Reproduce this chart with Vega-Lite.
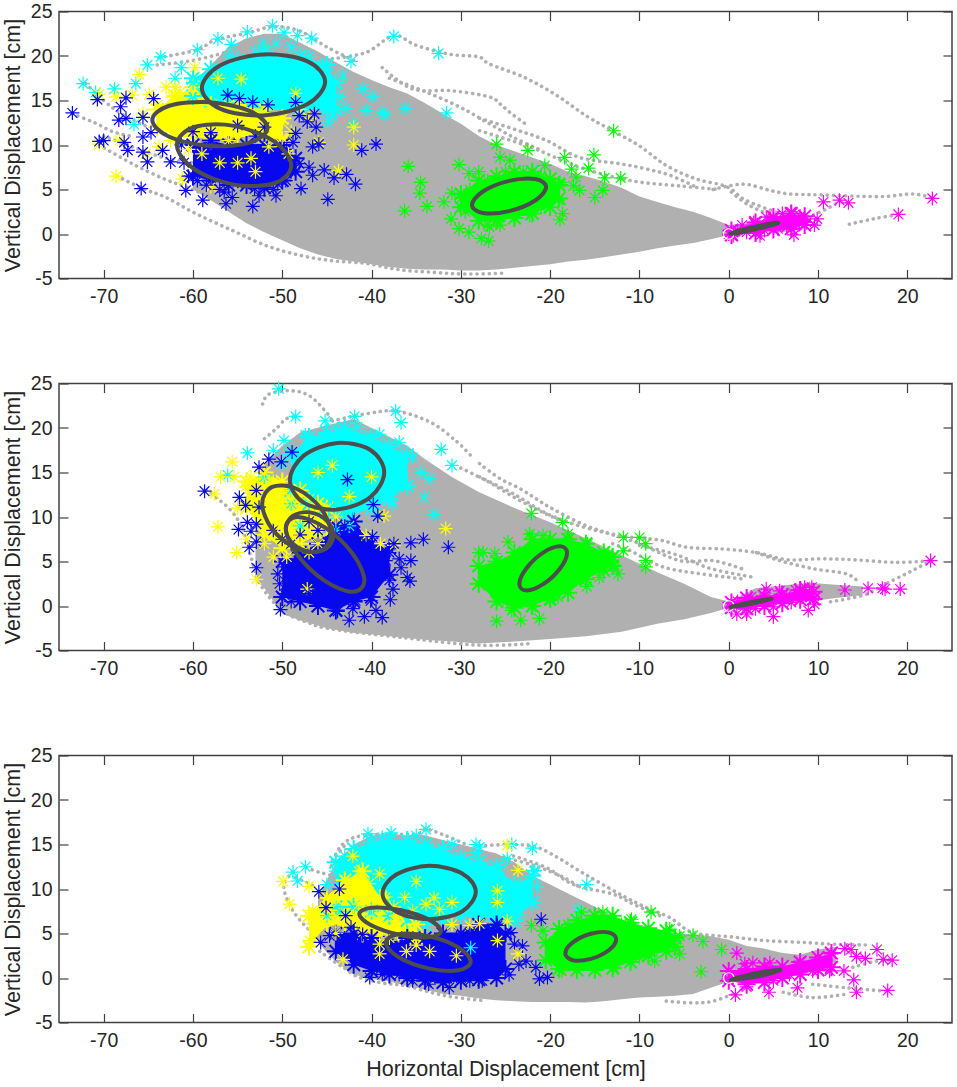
{
  "$schema": "https://vega.github.io/schema/vega-lite/v6.json",
  "description": "Horizontal vs vertical displacement clusters in three panels",
  "padding": {"left": 1, "top": 0.5, "right": 3, "bottom": 4},
  "bounds": "flush",
  "spacing": 105,
  "config": {
    "view": {"stroke": "#404040", "strokeWidth": 1.5},
    "font": "Liberation Sans",
    "axis": {"grid": false, "domain": false, "tickColor": "#404040", "tickWidth": 1.2, "labelColor": "#262626", "titleColor": "#262626", "labelFont": "Liberation Sans", "titleFont": "Liberation Sans", "labelFontSize": 19.5, "titleFontSize": 21.5, "titleFontWeight": "normal"}
  },
  "datasets": {
    "clouds": [
      {"p":1,"c":"g","x":-60,"y":5,"y2":17},{"p":1,"c":"g","x":-58,"y":3.8,"y2":19},{"p":1,"c":"g","x":-56,"y":2.5,"y2":21},{"p":1,"c":"g","x":-54,"y":1.2,"y2":22},{"p":1,"c":"g","x":-52,"y":0.2,"y2":22.5},{"p":1,"c":"g","x":-50,"y":-0.7,"y2":22.5},{"p":1,"c":"g","x":-48,"y":-1.6,"y2":21.5},{"p":1,"c":"g","x":-46,"y":-2.3,"y2":20.5},{"p":1,"c":"g","x":-44,"y":-2.8,"y2":19.3},{"p":1,"c":"g","x":-42,"y":-3.1,"y2":18.2},{"p":1,"c":"g","x":-40,"y":-3.4,"y2":17.3},{"p":1,"c":"g","x":-38,"y":-3.7,"y2":16.5},{"p":1,"c":"g","x":-36,"y":-3.9,"y2":15.8},{"p":1,"c":"g","x":-34,"y":-4,"y2":14.7},{"p":1,"c":"g","x":-32,"y":-4,"y2":13.5},{"p":1,"c":"g","x":-30,"y":-4.1,"y2":12.4},{"p":1,"c":"g","x":-28,"y":-4.1,"y2":11},{"p":1,"c":"g","x":-26,"y":-4,"y2":10},{"p":1,"c":"g","x":-24,"y":-3.8,"y2":9.3},{"p":1,"c":"g","x":-22,"y":-3.6,"y2":8.6},{"p":1,"c":"g","x":-20,"y":-3.4,"y2":7.9},{"p":1,"c":"g","x":-18,"y":-3.1,"y2":7},{"p":1,"c":"g","x":-16,"y":-2.9,"y2":6.5},{"p":1,"c":"g","x":-14,"y":-2.6,"y2":5.9},{"p":1,"c":"g","x":-12,"y":-2.3,"y2":5.2},{"p":1,"c":"g","x":-10,"y":-2,"y2":4.2},{"p":1,"c":"g","x":-8,"y":-1.6,"y2":3.6},{"p":1,"c":"g","x":-6,"y":-1.3,"y2":3},{"p":1,"c":"g","x":-4,"y":-1,"y2":2.5},{"p":1,"c":"g","x":-2,"y":-0.6,"y2":1.8},{"p":1,"c":"g","x":0,"y":-0.1,"y2":1},{"p":1,"c":"g","x":2,"y":0,"y2":1.2},{"p":1,"c":"g","x":4,"y":0.2,"y2":1.6},{"p":1,"c":"g","x":6,"y":0.2,"y2":2},{"p":1,"c":"g","x":8,"y":0.5,"y2":2},
      {"p":1,"c":"c","x":-60,"y":15.5,"y2":17.5},{"p":1,"c":"c","x":-58,"y":15,"y2":18.5},{"p":1,"c":"c","x":-55,"y":14.5,"y2":19.5},{"p":1,"c":"c","x":-52,"y":14,"y2":20.5},{"p":1,"c":"c","x":-48,"y":14,"y2":20},{"p":1,"c":"c","x":-45,"y":14,"y2":19},{"p":1,"c":"c","x":-44,"y":14,"y2":17},
      {"p":1,"c":"y","x":-64,"y":12,"y2":14},{"p":1,"c":"y","x":-62,"y":11,"y2":15.5},{"p":1,"c":"y","x":-60,"y":11,"y2":16.5},{"p":1,"c":"y","x":-58,"y":10.5,"y2":14.5},{"p":1,"c":"y","x":-55,"y":11,"y2":14.5},{"p":1,"c":"y","x":-52,"y":11,"y2":14},{"p":1,"c":"y","x":-50,"y":10.5,"y2":13},
      {"p":1,"c":"b","x":-60,"y":6.5,"y2":10},{"p":1,"c":"b","x":-58,"y":6,"y2":10.5},{"p":1,"c":"b","x":-56,"y":5.5,"y2":10},{"p":1,"c":"b","x":-54,"y":5.5,"y2":10},{"p":1,"c":"b","x":-52,"y":5.2,"y2":10},{"p":1,"c":"b","x":-50,"y":6,"y2":10},{"p":1,"c":"b","x":-48.5,"y":7,"y2":8.5},
      {"p":1,"c":"v","x":-30,"y":3,"y2":4.5},{"p":1,"c":"v","x":-28,"y":1.5,"y2":6},{"p":1,"c":"v","x":-26,"y":1.5,"y2":6.5},{"p":1,"c":"v","x":-24,"y":1.8,"y2":7},{"p":1,"c":"v","x":-22,"y":2.3,"y2":7},{"p":1,"c":"v","x":-20,"y":3,"y2":6.2},{"p":1,"c":"v","x":-19,"y":4,"y2":5.5},
      {"p":1,"c":"m","x":0.3,"y":-0.1,"y2":0.4},{"p":1,"c":"m","x":3,"y":0.1,"y2":1.3},{"p":1,"c":"m","x":5,"y":0.5,"y2":1.9},{"p":1,"c":"m","x":7,"y":0.6,"y2":2.3},{"p":1,"c":"m","x":8.5,"y":1,"y2":2},

      {"p":2,"c":"g","x":-53,"y":3,"y2":14},{"p":2,"c":"g","x":-52,"y":2,"y2":16},{"p":2,"c":"g","x":-50,"y":-0.9,"y2":18},{"p":2,"c":"g","x":-48,"y":-1.6,"y2":19.5},{"p":2,"c":"g","x":-45,"y":-2.5,"y2":20.3},{"p":2,"c":"g","x":-42,"y":-3,"y2":21},{"p":2,"c":"g","x":-39,"y":-3.3,"y2":19.5},{"p":2,"c":"g","x":-36,"y":-3.6,"y2":18},{"p":2,"c":"g","x":-34,"y":-3.8,"y2":16.5},{"p":2,"c":"g","x":-31,"y":-4,"y2":14.5},{"p":2,"c":"g","x":-28,"y":-4.2,"y2":12.8},{"p":2,"c":"g","x":-24,"y":-4,"y2":11},{"p":2,"c":"g","x":-20,"y":-3.7,"y2":9.4},{"p":2,"c":"g","x":-16,"y":-3.4,"y2":7.6},{"p":2,"c":"g","x":-12,"y":-2.9,"y2":5.7},{"p":2,"c":"g","x":-8,"y":-2,"y2":3.8},{"p":2,"c":"g","x":-5,"y":-1.5,"y2":2.5},{"p":2,"c":"g","x":-2,"y":-0.8,"y2":1},{"p":2,"c":"g","x":0,"y":-0.2,"y2":0.5},{"p":2,"c":"g","x":3,"y":0,"y2":2},{"p":2,"c":"g","x":6,"y":0.3,"y2":2.3},{"p":2,"c":"g","x":9,"y":0.5,"y2":2.6},{"p":2,"c":"g","x":12,"y":0.9,"y2":2.4},{"p":2,"c":"g","x":15,"y":1.2,"y2":2.2},
      {"p":2,"c":"c","x":-49,"y":13,"y2":17},{"p":2,"c":"c","x":-47,"y":11.5,"y2":19},{"p":2,"c":"c","x":-45,"y":10.5,"y2":19.5},{"p":2,"c":"c","x":-43,"y":10,"y2":20},{"p":2,"c":"c","x":-40,"y":11,"y2":19},{"p":2,"c":"c","x":-38,"y":12,"y2":18},{"p":2,"c":"c","x":-36,"y":13.5,"y2":17},
      {"p":2,"c":"y","x":-54,"y":11,"y2":14},{"p":2,"c":"y","x":-52,"y":8,"y2":15},{"p":2,"c":"y","x":-50,"y":6.5,"y2":14},{"p":2,"c":"y","x":-48,"y":7,"y2":13},{"p":2,"c":"y","x":-46,"y":8,"y2":11.5},{"p":2,"c":"y","x":-45,"y":9,"y2":11},
      {"p":2,"c":"b","x":-50,"y":1,"y2":5},{"p":2,"c":"b","x":-48,"y":0.5,"y2":6},{"p":2,"c":"b","x":-46,"y":0,"y2":7},{"p":2,"c":"b","x":-44,"y":-0.5,"y2":9},{"p":2,"c":"b","x":-42,"y":0.5,"y2":9.5},{"p":2,"c":"b","x":-40,"y":1,"y2":7},{"p":2,"c":"b","x":-38,"y":3.5,"y2":6.5},
      {"p":2,"c":"v","x":-28,"y":2.5,"y2":4.5},{"p":2,"c":"v","x":-26,"y":0.5,"y2":5},{"p":2,"c":"v","x":-24,"y":-0.2,"y2":6},{"p":2,"c":"v","x":-22,"y":0,"y2":7.5},{"p":2,"c":"v","x":-20,"y":0.8,"y2":7.5},{"p":2,"c":"v","x":-18,"y":1.5,"y2":7.5},{"p":2,"c":"v","x":-16,"y":3,"y2":7},{"p":2,"c":"v","x":-14,"y":4,"y2":6},{"p":2,"c":"v","x":-13,"y":4.5,"y2":5.5},
      {"p":2,"c":"m","x":0.3,"y":-0.2,"y2":0.4},{"p":2,"c":"m","x":2,"y":-0.3,"y2":0.9},{"p":2,"c":"m","x":4,"y":0,"y2":1.1},{"p":2,"c":"m","x":6,"y":0.3,"y2":1.3},{"p":2,"c":"m","x":8,"y":0.7,"y2":1.8},{"p":2,"c":"m","x":9.5,"y":0.8,"y2":1.6},

      {"p":3,"c":"g","x":-46,"y":4,"y2":9},{"p":3,"c":"g","x":-44,"y":1.8,"y2":13},{"p":3,"c":"g","x":-42,"y":0.4,"y2":15},{"p":3,"c":"g","x":-40,"y":-0.1,"y2":16},{"p":3,"c":"g","x":-38,"y":-0.4,"y2":16.2},{"p":3,"c":"g","x":-36,"y":-0.9,"y2":16},{"p":3,"c":"g","x":-34,"y":-1.3,"y2":16},{"p":3,"c":"g","x":-32,"y":-1.8,"y2":15.5},{"p":3,"c":"g","x":-30,"y":-2,"y2":15},{"p":3,"c":"g","x":-28,"y":-2.3,"y2":14.5},{"p":3,"c":"g","x":-26,"y":-2.5,"y2":14},{"p":3,"c":"g","x":-24,"y":-2.6,"y2":13},{"p":3,"c":"g","x":-22,"y":-2.7,"y2":11.5},{"p":3,"c":"g","x":-20,"y":-2.7,"y2":10.5},{"p":3,"c":"g","x":-18,"y":-2.7,"y2":9.5},{"p":3,"c":"g","x":-16,"y":-2.75,"y2":8.5},{"p":3,"c":"g","x":-14,"y":-2.6,"y2":7.5},{"p":3,"c":"g","x":-12,"y":-2.4,"y2":6.5},{"p":3,"c":"g","x":-10,"y":-2.2,"y2":6},{"p":3,"c":"g","x":-8,"y":-2.1,"y2":5.5},{"p":3,"c":"g","x":-6,"y":-2,"y2":5},{"p":3,"c":"g","x":-4,"y":-1.8,"y2":4.9},{"p":3,"c":"g","x":-2,"y":-1.1,"y2":4.7},{"p":3,"c":"g","x":0,"y":-0.4,"y2":4.3},{"p":3,"c":"g","x":2,"y":-0.6,"y2":3.6},{"p":3,"c":"g","x":4,"y":-0.3,"y2":3.3},{"p":3,"c":"g","x":6,"y":0,"y2":2.8},{"p":3,"c":"g","x":8,"y":0.5,"y2":2.6},{"p":3,"c":"g","x":10,"y":1,"y2":3.2},{"p":3,"c":"g","x":12,"y":1.2,"y2":3.5},
      {"p":3,"c":"c","x":-44,"y":8,"y2":13},{"p":3,"c":"c","x":-42,"y":8,"y2":14.5},{"p":3,"c":"c","x":-40,"y":7.5,"y2":15.3},{"p":3,"c":"c","x":-38,"y":7,"y2":15.5},{"p":3,"c":"c","x":-36,"y":6.5,"y2":15.5},{"p":3,"c":"c","x":-34,"y":6,"y2":15},{"p":3,"c":"c","x":-32,"y":6.5,"y2":14.5},{"p":3,"c":"c","x":-30,"y":7,"y2":13.5},{"p":3,"c":"c","x":-28,"y":7,"y2":13},{"p":3,"c":"c","x":-26,"y":6.5,"y2":12.5},{"p":3,"c":"c","x":-24,"y":6.5,"y2":10.5},{"p":3,"c":"c","x":-22,"y":8.5,"y2":11.5},
      {"p":3,"c":"y","x":-47,"y":3.5,"y2":7},{"p":3,"c":"y","x":-45,"y":6,"y2":9},{"p":3,"c":"y","x":-43,"y":6,"y2":11},{"p":3,"c":"y","x":-41,"y":5,"y2":12},{"p":3,"c":"y","x":-39,"y":5,"y2":9},{"p":3,"c":"y","x":-37,"y":5,"y2":7},{"p":3,"c":"y","x":-35,"y":4.5,"y2":6},
      {"p":3,"c":"b","x":-44,"y":3,"y2":5},{"p":3,"c":"b","x":-42,"y":1.5,"y2":5},{"p":3,"c":"b","x":-40,"y":0.8,"y2":4.5},{"p":3,"c":"b","x":-38,"y":0.4,"y2":4},{"p":3,"c":"b","x":-36,"y":0,"y2":4.5},{"p":3,"c":"b","x":-34,"y":-0.3,"y2":4.5},{"p":3,"c":"b","x":-32,"y":-0.5,"y2":5},{"p":3,"c":"b","x":-30,"y":-0.3,"y2":5},{"p":3,"c":"b","x":-28,"y":-0.2,"y2":6},{"p":3,"c":"b","x":-26,"y":0,"y2":6},{"p":3,"c":"b","x":-25,"y":1,"y2":5},
      {"p":3,"c":"v","x":-20.5,"y":2,"y2":4},{"p":3,"c":"v","x":-19,"y":1,"y2":5.5},{"p":3,"c":"v","x":-17,"y":0.9,"y2":6.5},{"p":3,"c":"v","x":-15,"y":0.9,"y2":7},{"p":3,"c":"v","x":-13,"y":1.1,"y2":7},{"p":3,"c":"v","x":-11,"y":1.8,"y2":6.2},{"p":3,"c":"v","x":-9,"y":2.5,"y2":5.6},{"p":3,"c":"v","x":-7,"y":3,"y2":5.3},{"p":3,"c":"v","x":-6,"y":3.5,"y2":4.5},
      {"p":3,"c":"m","x":0,"y":-0.3,"y2":0.8},{"p":3,"c":"m","x":2,"y":-0.7,"y2":1},{"p":3,"c":"m","x":4,"y":-0.5,"y2":1.3},{"p":3,"c":"m","x":6,"y":0,"y2":1.3},{"p":3,"c":"m","x":8,"y":0.4,"y2":1.8},{"p":3,"c":"m","x":10,"y":0.9,"y2":2.3},{"p":3,"c":"m","x":11.5,"y":1.2,"y2":2.8}
    ],
    "traces": [
      {"p":1,"id":"a","x":-70.5,"y":10},{"p":1,"id":"a","x":-66.8,"y":7.9},{"p":1,"id":"a","x":-63,"y":6.1},{"p":1,"id":"a","x":-60,"y":5},{"p":1,"id":"a","x":-57,"y":3.5},
      {"p":1,"id":"b","x":-68.5,"y":6.5},{"p":1,"id":"b","x":-65.6,"y":5.1},{"p":1,"id":"b","x":-63,"y":4.1},{"p":1,"id":"b","x":-59.7,"y":2.3},{"p":1,"id":"b","x":-55.6,"y":0.4},{"p":1,"id":"b","x":-51.8,"y":-1.3},{"p":1,"id":"b","x":-48,"y":-2.4},{"p":1,"id":"b","x":-44.4,"y":-3},{"p":1,"id":"b","x":-40.6,"y":-3.3},{"p":1,"id":"b","x":-37,"y":-4},{"p":1,"id":"b","x":-33.2,"y":-4.3},{"p":1,"id":"b","x":-29.4,"y":-4.5},{"p":1,"id":"b","x":-25,"y":-4.4},
      {"p":1,"id":"c","x":-63.8,"y":19.8},{"p":1,"id":"c","x":-59.5,"y":20.7},{"p":1,"id":"c","x":-57.5,"y":21.8},{"p":1,"id":"c","x":-53.8,"y":22.6},{"p":1,"id":"c","x":-51,"y":23.3},{"p":1,"id":"c","x":-48,"y":22.8},{"p":1,"id":"c","x":-45,"y":21},{"p":1,"id":"c","x":-42,"y":19.5},
      {"p":1,"id":"d","x":-72,"y":16.9},{"p":1,"id":"d","x":-70,"y":15},{"p":1,"id":"d","x":-68,"y":13.5},{"p":1,"id":"d","x":-65,"y":12},
      {"p":1,"id":"e","x":-44.4,"y":19.7},{"p":1,"id":"e","x":-40.6,"y":20.4},{"p":1,"id":"e","x":-37.5,"y":22.3},{"p":1,"id":"e","x":-35,"y":21.2},{"p":1,"id":"e","x":-31.3,"y":20.2},{"p":1,"id":"e","x":-28,"y":19.9},{"p":1,"id":"e","x":-26.8,"y":19.1},{"p":1,"id":"e","x":-22.9,"y":17.6},{"p":1,"id":"e","x":-19.3,"y":15.6},{"p":1,"id":"e","x":-16,"y":13.3},{"p":1,"id":"e","x":-13,"y":11.6},{"p":1,"id":"e","x":-10,"y":9.9},{"p":1,"id":"e","x":-7,"y":7.7},{"p":1,"id":"e","x":-3.7,"y":6.2},{"p":1,"id":"e","x":-0.2,"y":5.3},{"p":1,"id":"e","x":1.9,"y":3.8},{"p":1,"id":"e","x":5.7,"y":2.3},
      {"p":1,"id":"f","x":-1.75,"y":5},{"p":1,"id":"f","x":1.6,"y":5.6},{"p":1,"id":"f","x":4.6,"y":4.9},{"p":1,"id":"f","x":6.8,"y":4.5},{"p":1,"id":"f","x":10.2,"y":4.4},{"p":1,"id":"f","x":16.9,"y":4.2},{"p":1,"id":"f","x":20.6,"y":4.5},{"p":1,"id":"f","x":22.9,"y":4},
      {"p":1,"id":"g","x":0.3,"y":4.7},{"p":1,"id":"g","x":2,"y":3.4},{"p":1,"id":"g","x":4.2,"y":2.3},{"p":1,"id":"g","x":6,"y":1.6},
      {"p":1,"id":"h","x":13.5,"y":1.1},{"p":1,"id":"h","x":16.2,"y":1.7},{"p":1,"id":"h","x":19,"y":2.2},
      {"p":1,"id":"i","x":7,"y":1},{"p":1,"id":"i","x":10.5,"y":2.6},{"p":1,"id":"i","x":12.5,"y":3.6},{"p":1,"id":"i","x":13.3,"y":3.5},
      {"p":1,"id":"j","x":-27.9,"y":13},{"p":1,"id":"j","x":-24.1,"y":11.8},{"p":1,"id":"j","x":-20.4,"y":10.5},{"p":1,"id":"j","x":-16.7,"y":8.6},{"p":1,"id":"j","x":-12.2,"y":7.9},{"p":1,"id":"j","x":-9.2,"y":7.3},{"p":1,"id":"j","x":-6.6,"y":6.6},{"p":1,"id":"j","x":-3.7,"y":5.3},
      {"p":1,"id":"k","x":-27.9,"y":11.6},{"p":1,"id":"k","x":-22.3,"y":9.8},{"p":1,"id":"k","x":-16.7,"y":7.5},{"p":1,"id":"k","x":-11,"y":6},{"p":1,"id":"k","x":-5.5,"y":5.4},{"p":1,"id":"k","x":-1,"y":5},
      {"p":1,"id":"l","x":-38.8,"y":18.7},{"p":1,"id":"l","x":-35.4,"y":16.3},{"p":1,"id":"l","x":-31,"y":16.1},{"p":1,"id":"l","x":-26.8,"y":15.4},{"p":1,"id":"l","x":-25.6,"y":14.6},{"p":1,"id":"l","x":-24.3,"y":13.5},{"p":1,"id":"l","x":-22.8,"y":12.4},
      {"p":1,"id":"m","x":-73.5,"y":13.5},{"p":1,"id":"m","x":-71,"y":12.5},{"p":1,"id":"m","x":-69,"y":11.5},{"p":1,"id":"m","x":-67,"y":11},
      {"p":1,"id":"n","x":-70,"y":11},{"p":1,"id":"n","x":-66,"y":9.5},{"p":1,"id":"n","x":-63,"y":8.5},{"p":1,"id":"n","x":-60,"y":8},
      {"p":1,"id":"o","x":-64,"y":19},{"p":1,"id":"o","x":-60,"y":19.5},{"p":1,"id":"o","x":-56,"y":20.5},
      {"p":1,"id":"q","x":-38,"y":17.5},{"p":1,"id":"q","x":-34,"y":16},{"p":1,"id":"q","x":-30,"y":14.2},{"p":1,"id":"q","x":-27,"y":12.5},{"p":1,"id":"q","x":-24,"y":10.8},{"p":1,"id":"q","x":-21,"y":9.4},
      {"p":2,"id":"a","x":-52.2,"y":22.7},{"p":2,"id":"a","x":-51.5,"y":23.8},{"p":2,"id":"a","x":-49.2,"y":24.2},{"p":2,"id":"a","x":-47,"y":23.65},{"p":2,"id":"a","x":-45.1,"y":21.8},{"p":2,"id":"a","x":-44.4,"y":20.8},
      {"p":2,"id":"b","x":-52,"y":18.8},{"p":2,"id":"b","x":-50.7,"y":19.9},{"p":2,"id":"b","x":-49.6,"y":21},{"p":2,"id":"b","x":-48.5,"y":21.3},
      {"p":2,"id":"c","x":-44.4,"y":20.8},{"p":2,"id":"c","x":-40.6,"y":21.6},{"p":2,"id":"c","x":-37.3,"y":21.9},{"p":2,"id":"c","x":-33.5,"y":20.7},{"p":2,"id":"c","x":-30.6,"y":18.6},{"p":2,"id":"c","x":-28.7,"y":16.7},
      {"p":2,"id":"d","x":-27.9,"y":16},{"p":2,"id":"d","x":-25.6,"y":14.3},{"p":2,"id":"d","x":-23.4,"y":13.2},{"p":2,"id":"d","x":-21.5,"y":12},{"p":2,"id":"d","x":-19.7,"y":10.9},{"p":2,"id":"d","x":-15.9,"y":9},{"p":2,"id":"d","x":-12.2,"y":7.9},{"p":2,"id":"d","x":-7.7,"y":7.4},{"p":2,"id":"d","x":-4.7,"y":6.6},{"p":2,"id":"d","x":-0.6,"y":6.4},{"p":2,"id":"d","x":3.1,"y":6},{"p":2,"id":"d","x":6.5,"y":5.2},{"p":2,"id":"d","x":10.2,"y":5.3},{"p":2,"id":"d","x":13.9,"y":5.2},{"p":2,"id":"d","x":18.8,"y":4.9},{"p":2,"id":"d","x":22.7,"y":5.1},
      {"p":2,"id":"e","x":22.7,"y":5.1},{"p":2,"id":"e","x":20.6,"y":4},{"p":2,"id":"e","x":17.6,"y":2.5},{"p":2,"id":"e","x":15,"y":1.2},{"p":2,"id":"e","x":10.9,"y":0.4},
      {"p":2,"id":"f","x":3.1,"y":6},{"p":2,"id":"f","x":5.7,"y":5.1},{"p":2,"id":"f","x":9.4,"y":4.2},{"p":2,"id":"f","x":13.2,"y":3.6},{"p":2,"id":"f","x":14.7,"y":2.5},
      {"p":2,"id":"g","x":-27.9,"y":14.5},{"p":2,"id":"g","x":-24.1,"y":12.6},{"p":2,"id":"g","x":-20.4,"y":10.4},{"p":2,"id":"g","x":-16.7,"y":9},{"p":2,"id":"g","x":-11,"y":7.4},{"p":2,"id":"g","x":-5.5,"y":5.1},{"p":2,"id":"g","x":-1.75,"y":5.1},{"p":2,"id":"g","x":2,"y":4},
      {"p":2,"id":"h","x":-13,"y":7},{"p":2,"id":"h","x":-11,"y":6.2},{"p":2,"id":"h","x":-7.4,"y":4.4},{"p":2,"id":"h","x":-3,"y":3.6},{"p":2,"id":"h","x":2,"y":3},
      {"p":2,"id":"i","x":-10,"y":6.8},{"p":2,"id":"i","x":-6,"y":5.8},{"p":2,"id":"i","x":-2,"y":4.2},{"p":2,"id":"i","x":3,"y":3.2},
      {"p":2,"id":"j","x":-58.5,"y":13},{"p":2,"id":"j","x":-56,"y":11},{"p":2,"id":"j","x":-54.5,"y":8.8},{"p":2,"id":"j","x":-53.5,"y":5.5},{"p":2,"id":"j","x":-52.5,"y":2.5},{"p":2,"id":"j","x":-50,"y":-0.5},{"p":2,"id":"j","x":-47,"y":-1.9},{"p":2,"id":"j","x":-44.4,"y":-2.6},{"p":2,"id":"j","x":-36.9,"y":-3.5},{"p":2,"id":"j","x":-28,"y":-4.4},{"p":2,"id":"j","x":-22,"y":-4.2},
      {"p":2,"id":"k","x":-30,"y":15.5},{"p":2,"id":"k","x":-27,"y":14},{"p":2,"id":"k","x":-24,"y":12.2},{"p":2,"id":"k","x":-21,"y":10.6},{"p":2,"id":"k","x":-18,"y":9.2},
      {"p":3,"id":"a","x":-27.9,"y":14.85},{"p":3,"id":"a","x":-24.1,"y":15},{"p":3,"id":"a","x":-21.5,"y":14.7},{"p":3,"id":"a","x":-19.1,"y":13.5},{"p":3,"id":"a","x":-17,"y":12.2},{"p":3,"id":"a","x":-14.8,"y":10.9},{"p":3,"id":"a","x":-11.8,"y":9.2},{"p":3,"id":"a","x":-9.2,"y":7.9},{"p":3,"id":"a","x":-6.6,"y":6.8},{"p":3,"id":"a","x":-4,"y":5.1},{"p":3,"id":"a","x":0.5,"y":4.6},{"p":3,"id":"a","x":4.2,"y":4.2},{"p":3,"id":"a","x":8.3,"y":4},{"p":3,"id":"a","x":11.7,"y":3.8},{"p":3,"id":"a","x":15.8,"y":3.7},
      {"p":3,"id":"b","x":-24.1,"y":13.7},{"p":3,"id":"b","x":-20.4,"y":12.4},{"p":3,"id":"b","x":-17.4,"y":10.5},{"p":3,"id":"b","x":-12.9,"y":9.4},{"p":3,"id":"b","x":-10.7,"y":8.3},{"p":3,"id":"b","x":-7.7,"y":7},
      {"p":3,"id":"c","x":-27.9,"y":14.1},{"p":3,"id":"c","x":-22.3,"y":12.8},{"p":3,"id":"c","x":-18.5,"y":11.3},{"p":3,"id":"c","x":-16.7,"y":10.2},
      {"p":3,"id":"d","x":-7,"y":-2.6},{"p":3,"id":"d","x":-4,"y":-2.8},{"p":3,"id":"d","x":-1.75,"y":-2.6},{"p":3,"id":"d","x":0.5,"y":-1.8},
      {"p":3,"id":"e","x":6.1,"y":-1.6},{"p":3,"id":"e","x":9.4,"y":-2.2},{"p":3,"id":"e","x":13.2,"y":-1.8},
      {"p":3,"id":"f","x":9.4,"y":-0.7},{"p":3,"id":"f","x":13.2,"y":-1.1},{"p":3,"id":"f","x":17.8,"y":-1.5},
      {"p":3,"id":"g","x":13.9,"y":1.2},{"p":3,"id":"g","x":16.5,"y":1.9},{"p":3,"id":"g","x":18.3,"y":2},
      {"p":3,"id":"h","x":-44.5,"y":12.6},{"p":3,"id":"h","x":-43.4,"y":14.86},{"p":3,"id":"h","x":-41,"y":16},{"p":3,"id":"h","x":-35,"y":16.2},{"p":3,"id":"h","x":-33.9,"y":16.7},{"p":3,"id":"h","x":-31.7,"y":16},{"p":3,"id":"h","x":-29.4,"y":15},
      {"p":3,"id":"i","x":-48.8,"y":11.9},{"p":3,"id":"i","x":-49.8,"y":10.55},{"p":3,"id":"i","x":-49.4,"y":8.7},{"p":3,"id":"i","x":-48.1,"y":6.6},{"p":3,"id":"i","x":-45.9,"y":4.4},{"p":3,"id":"i","x":-43.6,"y":2.3},{"p":3,"id":"i","x":-42.1,"y":0.4},{"p":3,"id":"i","x":-39.1,"y":-0.5},{"p":3,"id":"i","x":-36.1,"y":-0.9},{"p":3,"id":"i","x":-31.7,"y":-2},{"p":3,"id":"i","x":-27.2,"y":-2.56},
      {"p":3,"id":"j","x":-47.3,"y":12.4},{"p":3,"id":"j","x":-45.9,"y":11.9},{"p":3,"id":"j","x":-44.4,"y":11.5},
      {"p":3,"id":"k","x":-48.5,"y":11.3},{"p":3,"id":"k","x":-46.6,"y":10.4},
      {"p":3,"id":"l","x":-44.4,"y":13.2},{"p":3,"id":"l","x":-42.9,"y":15},
      {"p":3,"id":"n","x":-45.8,"y":3},{"p":3,"id":"n","x":-43.2,"y":1.2},{"p":3,"id":"n","x":-41,"y":0.2}
    ],
    "stars": [
      {"p":1,"c":"c","x":-72.3,"y":16.9},{"p":1,"c":"c","x":-70.9,"y":15.9},{"p":1,"c":"c","x":-68.8,"y":16.3},{"p":1,"c":"c","x":-66.4,"y":16.9},{"p":1,"c":"c","x":-65.1,"y":19},{"p":1,"c":"c","x":-63.6,"y":19.9},{"p":1,"c":"c","x":-61.3,"y":18.7},{"p":1,"c":"c","x":-59.5,"y":20.7},{"p":1,"c":"c","x":-57.2,"y":21.9},{"p":1,"c":"c","x":-55.7,"y":21.3},{"p":1,"c":"c","x":-53.9,"y":22.7},{"p":1,"c":"c","x":-51.1,"y":23.4},{"p":1,"c":"c","x":-49.8,"y":22.6},{"p":1,"c":"c","x":-48.3,"y":22.3},{"p":1,"c":"c","x":-46.7,"y":22},{"p":1,"c":"c","x":-52.2,"y":21.4},{"p":1,"c":"c","x":-50.7,"y":21.4},{"p":1,"c":"c","x":-42.3,"y":19.4},{"p":1,"c":"c","x":-37.5,"y":22.2},{"p":1,"c":"c","x":-32.5,"y":20.3},{"p":1,"c":"c","x":-31.6,"y":13.6},{"p":1,"c":"c","x":-36.2,"y":14.1},{"p":1,"c":"c","x":-38.8,"y":13.7},{"p":1,"c":"c","x":-40.6,"y":13.9},{"p":1,"c":"c","x":-38.5,"y":13.4},{"p":1,"c":"c","x":-39.9,"y":15.4},{"p":1,"c":"c","x":-41,"y":16.3},{"p":1,"c":"c","x":-42.9,"y":14.1},{"p":1,"c":"c","x":-44.4,"y":13.3},{"p":1,"c":"c","x":-44.9,"y":12.6},{"p":1,"c":"c","x":-42.1,"y":12.4},{"p":1,"c":"c","x":-43.2,"y":17.8},{"p":1,"c":"c","x":-43.6,"y":15.4},{"p":1,"c":"c","x":-45.1,"y":14.3},{"p":1,"c":"c","x":-66.6,"y":12.3},{"p":1,"c":"c","x":-60,"y":17},{"p":1,"c":"c","x":-58,"y":18.5},{"p":1,"c":"c","x":-56,"y":20},{"p":1,"c":"c","x":-53,"y":20.5},{"p":1,"c":"c","x":-49,"y":21},{"p":1,"c":"c","x":-47,"y":20},{"p":1,"c":"c","x":-45.5,"y":19},{"p":1,"c":"c","x":-44.5,"y":17},{"p":1,"c":"c","x":-46,"y":15},{"p":1,"c":"c","x":-48,"y":14.5},{"p":1,"c":"c","x":-62,"y":17.5},{"p":1,"c":"c","x":-57,"y":15.5},
      {"p":1,"c":"y","x":-68.6,"y":6.5},{"p":1,"c":"y","x":-66,"y":17.9},{"p":1,"c":"y","x":-59.8,"y":18.7},{"p":1,"c":"y","x":-54.6,"y":17.4},{"p":1,"c":"y","x":-57.2,"y":17.5},{"p":1,"c":"y","x":-48.5,"y":15.8},{"p":1,"c":"y","x":-42,"y":12},{"p":1,"c":"y","x":-42,"y":10},{"p":1,"c":"y","x":-43.7,"y":7.1},{"p":1,"c":"y","x":-45.9,"y":10.3},{"p":1,"c":"y","x":-70.5,"y":15.7},{"p":1,"c":"y","x":-66.8,"y":15.6},{"p":1,"c":"y","x":-68.6,"y":15.4},{"p":1,"c":"y","x":-68.2,"y":10.5},{"p":1,"c":"y","x":-70.5,"y":10.1},{"p":1,"c":"y","x":-65.3,"y":9},{"p":1,"c":"y","x":-63.8,"y":9.8},{"p":1,"c":"y","x":-63,"y":16.5},{"p":1,"c":"y","x":-61.5,"y":15.9},{"p":1,"c":"y","x":-62.3,"y":15.4},{"p":1,"c":"y","x":-64.9,"y":15.7},{"p":1,"c":"y","x":-65.6,"y":13.5},{"p":1,"c":"y","x":-61.2,"y":6.2},{"p":1,"c":"y","x":-58,"y":5.3},{"p":1,"c":"y","x":-62,"y":14},{"p":1,"c":"y","x":-60,"y":13.5},{"p":1,"c":"y","x":-58,"y":13},{"p":1,"c":"y","x":-56,"y":14.5},{"p":1,"c":"y","x":-54,"y":13.5},{"p":1,"c":"y","x":-52,"y":13},{"p":1,"c":"y","x":-50,"y":12.5},{"p":1,"c":"y","x":-49,"y":11.5},{"p":1,"c":"y","x":-50,"y":10.8},{"p":1,"c":"y","x":-48,"y":14},{"p":1,"c":"y","x":-47,"y":13},{"p":1,"c":"y","x":-63,"y":12},{"p":1,"c":"y","x":-61,"y":11.5},{"p":1,"c":"y","x":-62,"y":16.5},{"p":1,"c":"y","x":-59,"y":14.5},{"p":1,"c":"y","x":-62.5,"y":10.5},{"p":1,"c":"y","x":-64,"y":14.5},
      {"p":1,"c":"b","x":-73.5,"y":13.6},{"p":1,"c":"b","x":-70.7,"y":15.1},{"p":1,"c":"b","x":-67.5,"y":15.3},{"p":1,"c":"b","x":-68.1,"y":14.3},{"p":1,"c":"b","x":-64.4,"y":15.2},{"p":1,"c":"b","x":-68.3,"y":12.8},{"p":1,"c":"b","x":-67.5,"y":13},{"p":1,"c":"b","x":-65.6,"y":13.1},{"p":1,"c":"b","x":-70.5,"y":10.4},{"p":1,"c":"b","x":-70,"y":10.5},{"p":1,"c":"b","x":-67.7,"y":10.3},{"p":1,"c":"b","x":-67.3,"y":9.4},{"p":1,"c":"b","x":-65.6,"y":10.9},{"p":1,"c":"b","x":-64.7,"y":11.4},{"p":1,"c":"b","x":-65.6,"y":9.2},{"p":1,"c":"b","x":-65.1,"y":8.1},{"p":1,"c":"b","x":-65.8,"y":5.1},{"p":1,"c":"b","x":-63.4,"y":9.4},{"p":1,"c":"b","x":-62.5,"y":8.1},{"p":1,"c":"b","x":-60.8,"y":4.9},{"p":1,"c":"b","x":-58.9,"y":3.8},{"p":1,"c":"b","x":-56.3,"y":3.4},{"p":1,"c":"b","x":-55.6,"y":4.1},{"p":1,"c":"b","x":-53.3,"y":3.1},{"p":1,"c":"b","x":-44.9,"y":3.9},{"p":1,"c":"b","x":-39.5,"y":10.1},{"p":1,"c":"b","x":-41.1,"y":9.4},{"p":1,"c":"b","x":-41.8,"y":5.6},{"p":1,"c":"b","x":-42.8,"y":6.7},{"p":1,"c":"b","x":-44.2,"y":6.3},{"p":1,"c":"b","x":-45.3,"y":7.2},{"p":1,"c":"b","x":-46.6,"y":6.6},{"p":1,"c":"b","x":-45.9,"y":10.1},{"p":1,"c":"b","x":-46.6,"y":9.8},{"p":1,"c":"b","x":-46.2,"y":12},{"p":1,"c":"b","x":-46.4,"y":13.5},{"p":1,"c":"b","x":-47.2,"y":12.6},{"p":1,"c":"b","x":-48.1,"y":13.3},{"p":1,"c":"b","x":-48.5,"y":14.8},{"p":1,"c":"b","x":-51.6,"y":14.5},{"p":1,"c":"b","x":-53.3,"y":14.8},{"p":1,"c":"b","x":-54.8,"y":15.2},{"p":1,"c":"b","x":-56.1,"y":15.6},{"p":1,"c":"b","x":-48.5,"y":11.3},{"p":1,"c":"b","x":-48.8,"y":10.3},{"p":1,"c":"b","x":-48.1,"y":7.9},{"p":1,"c":"b","x":-47,"y":7.5},{"p":1,"c":"b","x":-47.9,"y":5.1},{"p":1,"c":"b","x":-50.7,"y":4.3},{"p":1,"c":"b","x":-52.6,"y":4.3},{"p":1,"c":"b","x":-53.1,"y":5.1},{"p":1,"c":"b","x":-49.6,"y":6},{"p":1,"c":"b","x":-60.5,"y":6.5},{"p":1,"c":"b","x":-61,"y":8},{"p":1,"c":"b","x":-59.5,"y":6},{"p":1,"c":"b","x":-58.5,"y":5.5},{"p":1,"c":"b","x":-58,"y":6.3},{"p":1,"c":"b","x":-57,"y":5},{"p":1,"c":"b","x":-56.5,"y":4.7},{"p":1,"c":"b","x":-55.5,"y":6},{"p":1,"c":"b","x":-54.5,"y":5.7},{"p":1,"c":"b","x":-52,"y":5.5},{"p":1,"c":"b","x":-51,"y":5},{"p":1,"c":"b","x":-50.5,"y":5.6},{"p":1,"c":"b","x":-49,"y":7},{"p":1,"c":"b","x":-49,"y":8.5},{"p":1,"c":"b","x":-61.3,"y":10},{"p":1,"c":"b","x":-60,"y":11.5},{"p":1,"c":"b","x":-53,"y":11},{"p":1,"c":"b","x":-52,"y":12},{"p":1,"c":"b","x":-55,"y":12.2},{"p":1,"c":"b","x":-58,"y":11.4},{"p":1,"c":"b","x":-49.5,"y":9.5},
      {"p":1,"c":"y","x":-60.5,"y":9.5},{"p":1,"c":"y","x":-59,"y":9},{"p":1,"c":"y","x":-57,"y":8},{"p":1,"c":"y","x":-55,"y":8},{"p":1,"c":"y","x":-53.5,"y":8.5},{"p":1,"c":"y","x":-53,"y":7},{"p":1,"c":"y","x":-51.5,"y":9.8},{"p":1,"c":"y","x":-51,"y":11},{"p":1,"c":"y","x":-49.3,"y":9},{"p":1,"c":"y","x":-56,"y":10.5},
      {"p":1,"c":"v","x":-35.9,"y":7.6},{"p":1,"c":"v","x":-34.5,"y":5.8},{"p":1,"c":"v","x":-34.6,"y":4.6},{"p":1,"c":"v","x":-33.8,"y":3.1},{"p":1,"c":"v","x":-36.3,"y":2.6},{"p":1,"c":"v","x":-30.2,"y":7.8},{"p":1,"c":"v","x":-29.1,"y":6.8},{"p":1,"c":"v","x":-31,"y":4.6},{"p":1,"c":"v","x":-31.9,"y":3.6},{"p":1,"c":"v","x":-31.1,"y":1.7},{"p":1,"c":"v","x":-30.2,"y":0.6},{"p":1,"c":"v","x":-29.1,"y":0.2},{"p":1,"c":"v","x":-26,"y":10.1},{"p":1,"c":"v","x":-22.5,"y":9.4},{"p":1,"c":"v","x":-25.6,"y":8.6},{"p":1,"c":"v","x":-24.5,"y":8.3},{"p":1,"c":"v","x":-18.4,"y":8.6},{"p":1,"c":"v","x":-15.1,"y":8.9},{"p":1,"c":"v","x":-20.6,"y":7.7},{"p":1,"c":"v","x":-17.6,"y":7.3},{"p":1,"c":"v","x":-15.7,"y":7.4},{"p":1,"c":"v","x":-17.1,"y":6.4},{"p":1,"c":"v","x":-13.9,"y":6.3},{"p":1,"c":"v","x":-12.1,"y":6.3},{"p":1,"c":"v","x":-12.9,"y":11.6},{"p":1,"c":"v","x":-18.9,"y":5.8},{"p":1,"c":"v","x":-17.4,"y":5.4},{"p":1,"c":"v","x":-16.7,"y":4.9},{"p":1,"c":"v","x":-14.1,"y":4.9},{"p":1,"c":"v","x":-15,"y":4.1},{"p":1,"c":"v","x":-19.1,"y":3.8},{"p":1,"c":"v","x":-18.6,"y":2.3},{"p":1,"c":"v","x":-18.9,"y":1.6},{"p":1,"c":"v","x":-26.9,"y":-0.8},{"p":1,"c":"v","x":-27.7,"y":-0.5},{"p":1,"c":"v","x":-22.3,"y":2.1},{"p":1,"c":"v","x":-23.8,"y":2.3},{"p":1,"c":"v","x":-25.6,"y":1},{"p":1,"c":"v","x":-26.8,"y":0.8},{"p":1,"c":"v","x":-28,"y":7},{"p":1,"c":"v","x":-27,"y":6},{"p":1,"c":"v","x":-26,"y":5.5},{"p":1,"c":"v","x":-29,"y":5},{"p":1,"c":"v","x":-30,"y":4},{"p":1,"c":"v","x":-29.5,"y":2.5},{"p":1,"c":"v","x":-28,"y":1.5},{"p":1,"c":"v","x":-25,"y":7},{"p":1,"c":"v","x":-23,"y":7},{"p":1,"c":"v","x":-21,"y":6.5},{"p":1,"c":"v","x":-20,"y":5},{"p":1,"c":"v","x":-21,"y":3},{"p":1,"c":"v","x":-26,"y":2},{"p":1,"c":"v","x":-27,"y":1},
      {"p":1,"c":"m","x":22.8,"y":4},{"p":1,"c":"m","x":19,"y":2.2},{"p":1,"c":"m","x":13.4,"y":3.5},{"p":1,"c":"m","x":12.4,"y":3.8},{"p":1,"c":"m","x":10.6,"y":3.6},{"p":1,"c":"m","x":9.9,"y":1.7},{"p":1,"c":"m","x":9.6,"y":1},{"p":1,"c":"m","x":7.3,"y":-0.1},{"p":1,"c":"m","x":8.2,"y":1.5},{"p":1,"c":"m","x":4.2,"y":1.9},{"p":1,"c":"m","x":0,"y":0},{"p":1,"c":"m","x":1,"y":0.4},{"p":1,"c":"m","x":2,"y":0.2},{"p":1,"c":"m","x":3,"y":1},{"p":1,"c":"m","x":4,"y":0.4},{"p":1,"c":"m","x":5,"y":1.7},{"p":1,"c":"m","x":5.5,"y":0.6},{"p":1,"c":"m","x":6,"y":2.3},{"p":1,"c":"m","x":6.5,"y":0.8},{"p":1,"c":"m","x":7,"y":2.5},{"p":1,"c":"m","x":7.5,"y":1.2},{"p":1,"c":"m","x":8,"y":2},{"p":1,"c":"m","x":8.7,"y":1.3},{"p":1,"c":"m","x":1.5,"y":1},{"p":1,"c":"m","x":2.8,"y":1.3},{"p":1,"c":"m","x":0.5,"y":-0.2},{"p":1,"c":"m","x":3.5,"y":-0.2},

      {"p":2,"c":"c","x":-50.4,"y":24.4},{"p":2,"c":"c","x":-48.5,"y":21.3},{"p":2,"c":"c","x":-45.2,"y":20.8},{"p":2,"c":"c","x":-41.9,"y":21.3},{"p":2,"c":"c","x":-37.3,"y":21.9},{"p":2,"c":"c","x":-36.7,"y":20.6},{"p":2,"c":"c","x":-32.2,"y":17.6},{"p":2,"c":"c","x":-31,"y":15.8},{"p":2,"c":"c","x":-33,"y":10.3},{"p":2,"c":"c","x":-37.6,"y":11.5},{"p":2,"c":"c","x":-34.1,"y":12.2},{"p":2,"c":"c","x":-33.5,"y":14.3},{"p":2,"c":"c","x":-53.9,"y":17.2},{"p":2,"c":"c","x":-49.8,"y":18.6},{"p":2,"c":"c","x":-56.1,"y":14.7},{"p":2,"c":"c","x":-47.4,"y":19.2},{"p":2,"c":"c","x":-43.8,"y":19.9},{"p":2,"c":"c","x":-41.6,"y":20.1},{"p":2,"c":"c","x":-39.1,"y":19.3},{"p":2,"c":"c","x":-36.9,"y":18.4},{"p":2,"c":"c","x":-35.4,"y":16.7},{"p":2,"c":"c","x":-36.5,"y":14.9},{"p":2,"c":"c","x":-38,"y":16},{"p":2,"c":"c","x":-37.6,"y":13},{"p":2,"c":"c","x":-39,"y":13.2},{"p":2,"c":"c","x":-46,"y":18},{"p":2,"c":"c","x":-48,"y":17},{"p":2,"c":"c","x":-50,"y":16},{"p":2,"c":"c","x":-47,"y":16},{"p":2,"c":"c","x":-44.5,"y":12},{"p":2,"c":"c","x":-42,"y":11},{"p":2,"c":"c","x":-41,"y":19},{"p":2,"c":"c","x":-38,"y":18},{"p":2,"c":"c","x":-36,"y":13.5},{"p":2,"c":"c","x":-34.5,"y":15},{"p":2,"c":"c","x":-49,"y":11.5},{"p":2,"c":"c","x":-48,"y":9},{"p":2,"c":"c","x":-44,"y":8.5},{"p":2,"c":"c","x":-42.5,"y":9},{"p":2,"c":"c","x":-51,"y":17.5},{"p":2,"c":"c","x":-52,"y":14.5},
      {"p":2,"c":"y","x":-31.7,"y":8.7},{"p":2,"c":"y","x":-57.2,"y":8.9},{"p":2,"c":"y","x":-55.1,"y":6},{"p":2,"c":"y","x":-52.9,"y":3},{"p":2,"c":"y","x":-47.2,"y":1.9},{"p":2,"c":"y","x":-57.6,"y":12.6},{"p":2,"c":"y","x":-55.6,"y":16.2},{"p":2,"c":"y","x":-56.9,"y":14.5},{"p":2,"c":"y","x":-55.4,"y":14.5},{"p":2,"c":"y","x":-54.1,"y":13.4},{"p":2,"c":"y","x":-53.5,"y":14.5},{"p":2,"c":"y","x":-52,"y":15},{"p":2,"c":"y","x":-52,"y":12.5},{"p":2,"c":"y","x":-51,"y":14},{"p":2,"c":"y","x":-50,"y":13},{"p":2,"c":"y","x":-50.5,"y":11},{"p":2,"c":"y","x":-49,"y":12},{"p":2,"c":"y","x":-47,"y":12},{"p":2,"c":"y","x":-46,"y":11},{"p":2,"c":"y","x":-53,"y":12},{"p":2,"c":"y","x":-55,"y":11},{"p":2,"c":"y","x":-45,"y":9},{"p":2,"c":"y","x":-44,"y":10},{"p":2,"c":"y","x":-42.5,"y":12.3},{"p":2,"c":"y","x":-40,"y":14.5},{"p":2,"c":"y","x":-38.6,"y":10.1},{"p":2,"c":"y","x":-39,"y":7},{"p":2,"c":"y","x":-40.6,"y":7.9},{"p":2,"c":"y","x":-44.4,"y":15.8},{"p":2,"c":"y","x":-46,"y":15},{"p":2,"c":"y","x":-37.5,"y":6.8},
      {"p":2,"c":"b","x":-58.7,"y":12.9},{"p":2,"c":"b","x":-54.8,"y":12.2},{"p":2,"c":"b","x":-52.9,"y":13},{"p":2,"c":"b","x":-54.1,"y":11.3},{"p":2,"c":"b","x":-52.6,"y":11.1},{"p":2,"c":"b","x":-53.9,"y":9.4},{"p":2,"c":"b","x":-54.9,"y":8.6},{"p":2,"c":"b","x":-52.9,"y":9.2},{"p":2,"c":"b","x":-53.5,"y":8.4},{"p":2,"c":"b","x":-52.9,"y":7.2},{"p":2,"c":"b","x":-53.7,"y":6.6},{"p":2,"c":"b","x":-52.9,"y":4.3},{"p":2,"c":"b","x":-51.5,"y":16.5},{"p":2,"c":"b","x":-52.6,"y":15.6},{"p":2,"c":"b","x":-50.1,"y":16.2},{"p":2,"c":"b","x":-48.9,"y":17.3},{"p":2,"c":"b","x":-50.2,"y":-0.4},{"p":2,"c":"b","x":-49,"y":0.5},{"p":2,"c":"b","x":-49.8,"y":1.4},{"p":2,"c":"b","x":-50.3,"y":2.5},{"p":2,"c":"b","x":-50.5,"y":3.6},{"p":2,"c":"b","x":-48.3,"y":1.2},{"p":2,"c":"b","x":-49.8,"y":4.4},{"p":2,"c":"b","x":-48.7,"y":4},{"p":2,"c":"b","x":-42.5,"y":-1.6},{"p":2,"c":"b","x":-43.8,"y":-0.6},{"p":2,"c":"b","x":-40.8,"y":-1.2},{"p":2,"c":"b","x":-38.8,"y":-1.3},{"p":2,"c":"b","x":-39.5,"y":-0.5},{"p":2,"c":"b","x":-42.1,"y":-0.3},{"p":2,"c":"b","x":-40.1,"y":0.6},{"p":2,"c":"b","x":-40.6,"y":1.7},{"p":2,"c":"b","x":-40.3,"y":3},{"p":2,"c":"b","x":-39.3,"y":3.4},{"p":2,"c":"b","x":-37.9,"y":0.7},{"p":2,"c":"b","x":-37.6,"y":1.9},{"p":2,"c":"b","x":-38,"y":2.9},{"p":2,"c":"b","x":-35.7,"y":2.8},{"p":2,"c":"b","x":-36,"y":3.2},{"p":2,"c":"b","x":-35.6,"y":5.1},{"p":2,"c":"b","x":-36.7,"y":4.3},{"p":2,"c":"b","x":-36.9,"y":5.3},{"p":2,"c":"b","x":-35.6,"y":7.1},{"p":2,"c":"b","x":-34.2,"y":7.5},{"p":2,"c":"b","x":-31.4,"y":6.6},{"p":2,"c":"b","x":-37.5,"y":7},{"p":2,"c":"b","x":-39.9,"y":7.8},{"p":2,"c":"b","x":-38.4,"y":5.1},{"p":2,"c":"b","x":-39.3,"y":5.3},{"p":2,"c":"b","x":-39.3,"y":10.1},{"p":2,"c":"b","x":-39.8,"y":11.4},{"p":2,"c":"b","x":-42.7,"y":14.2},{"p":2,"c":"b","x":-45.9,"y":1},{"p":2,"c":"b","x":-44.4,"y":0.6},{"p":2,"c":"b","x":-47,"y":1.4},{"p":2,"c":"b","x":-42.9,"y":2.9},{"p":2,"c":"b","x":-41.8,"y":0.6},{"p":2,"c":"b","x":-41,"y":4},{"p":2,"c":"b","x":-41,"y":6},{"p":2,"c":"b","x":-42,"y":7.5},{"p":2,"c":"b","x":-43,"y":9},{"p":2,"c":"b","x":-44,"y":6},{"p":2,"c":"b","x":-45,"y":4.5},{"p":2,"c":"b","x":-46,"y":3},{"p":2,"c":"b","x":-47,"y":3.5},{"p":2,"c":"b","x":-48,"y":5},{"p":2,"c":"b","x":-44,"y":3},{"p":2,"c":"b","x":-43,"y":1.5},{"p":2,"c":"b","x":-49,"y":7},{"p":2,"c":"b","x":-46,"y":8.5},{"p":2,"c":"b","x":-47,"y":9.5},{"p":2,"c":"b","x":-48,"y":8},{"p":2,"c":"b","x":-50,"y":7.5},{"p":2,"c":"b","x":-51,"y":8.5},{"p":2,"c":"b","x":-44,"y":8},{"p":2,"c":"b","x":-40.5,"y":7},{"p":2,"c":"b","x":-38,"y":6},
      {"p":2,"c":"y","x":-51,"y":10},{"p":2,"c":"y","x":-50,"y":9},{"p":2,"c":"y","x":-49,"y":8},{"p":2,"c":"y","x":-48,"y":7},{"p":2,"c":"y","x":-47,"y":6},{"p":2,"c":"y","x":-46,"y":7},{"p":2,"c":"y","x":-52,"y":7},{"p":2,"c":"y","x":-51,"y":5.5},{"p":2,"c":"y","x":-49.5,"y":5.5},{"p":2,"c":"y","x":-54,"y":7.5},
      {"p":2,"c":"v","x":-28,"y":6},{"p":2,"c":"v","x":-22.1,"y":10.4},{"p":2,"c":"v","x":-18.6,"y":9.4},{"p":2,"c":"v","x":-24.7,"y":7.2},{"p":2,"c":"v","x":-11.8,"y":7.7},{"p":2,"c":"v","x":-10,"y":7.7},{"p":2,"c":"v","x":-9.3,"y":7},{"p":2,"c":"v","x":-11.8,"y":6.2},{"p":2,"c":"v","x":-9.3,"y":5.1},{"p":2,"c":"v","x":-9.3,"y":4.4},{"p":2,"c":"v","x":-12.4,"y":3.6},{"p":2,"c":"v","x":-14.5,"y":3.2},{"p":2,"c":"v","x":-15.9,"y":2.2},{"p":2,"c":"v","x":-26,"y":-1.7},{"p":2,"c":"v","x":-23.3,"y":-1.6},{"p":2,"c":"v","x":-21.2,"y":-1.4},{"p":2,"c":"v","x":-18.9,"y":2.1},{"p":2,"c":"v","x":-27.5,"y":6},{"p":2,"c":"v","x":-26.2,"y":5.9},{"p":2,"c":"v","x":-22.3,"y":8.1},{"p":2,"c":"v","x":-20.8,"y":7.9},{"p":2,"c":"v","x":-18,"y":8.1},{"p":2,"c":"v","x":-15.8,"y":7},{"p":2,"c":"v","x":-13.5,"y":5.9},{"p":2,"c":"v","x":-14.8,"y":5.5},{"p":2,"c":"v","x":-12.8,"y":4.6},{"p":2,"c":"v","x":-15.6,"y":4},{"p":2,"c":"v","x":-16.5,"y":3.2},{"p":2,"c":"v","x":-19.1,"y":1},{"p":2,"c":"v","x":-25.3,"y":0.6},{"p":2,"c":"v","x":-24.3,"y":-0.5},{"p":2,"c":"v","x":-22.1,"y":-0.1},{"p":2,"c":"v","x":-20,"y":0.6},{"p":2,"c":"v","x":-27.3,"y":3.2},{"p":2,"c":"v","x":-26.2,"y":2.7},{"p":2,"c":"v","x":-24.5,"y":2.3},
      {"p":2,"c":"m","x":22.6,"y":5.1},{"p":2,"c":"m","x":19.2,"y":1.9},{"p":2,"c":"m","x":17.5,"y":1.9},{"p":2,"c":"m","x":17.2,"y":2},{"p":2,"c":"m","x":15.6,"y":2},{"p":2,"c":"m","x":13,"y":1.8},{"p":2,"c":"m","x":9.3,"y":2.1},{"p":2,"c":"m","x":8.5,"y":2.1},{"p":2,"c":"m","x":9.6,"y":0.2},{"p":2,"c":"m","x":8.9,"y":-0.5},{"p":2,"c":"m","x":5,"y":-1.2},{"p":2,"c":"m","x":2,"y":-0.9},{"p":2,"c":"m","x":0.9,"y":-0.9},{"p":2,"c":"m","x":4.2,"y":1.9},{"p":2,"c":"m","x":5.7,"y":1.7},{"p":2,"c":"m","x":9.1,"y":1},{"p":2,"c":"m","x":7,"y":0.4},{"p":2,"c":"m","x":0.1,"y":0},{"p":2,"c":"m","x":5,"y":-0.1},{"p":2,"c":"m","x":1,"y":0.5},{"p":2,"c":"m","x":2.5,"y":1},{"p":2,"c":"m","x":4,"y":0.8},{"p":2,"c":"m","x":6.5,"y":1.2},{"p":2,"c":"m","x":7.5,"y":1.8},{"p":2,"c":"m","x":3,"y":-0.3},{"p":2,"c":"m","x":8.2,"y":1},

      {"p":3,"c":"c","x":-48.8,"y":11.9},{"p":3,"c":"c","x":-47.4,"y":12.5},{"p":3,"c":"c","x":-48.3,"y":10.9},{"p":3,"c":"c","x":-43,"y":13.7},{"p":3,"c":"c","x":-40.4,"y":16.2},{"p":3,"c":"c","x":-37.8,"y":16.3},{"p":3,"c":"c","x":-38.8,"y":15.8},{"p":3,"c":"c","x":-33.9,"y":16.7},{"p":3,"c":"c","x":-35,"y":16},{"p":3,"c":"c","x":-28.3,"y":15},{"p":3,"c":"c","x":-28.3,"y":14.1},{"p":3,"c":"c","x":-24.3,"y":15},{"p":3,"c":"c","x":-22,"y":14.6},{"p":3,"c":"c","x":-24.8,"y":13.4},{"p":3,"c":"c","x":-21.8,"y":12},{"p":3,"c":"c","x":-15.9,"y":10.5},{"p":3,"c":"c","x":-16.9,"y":7.7},{"p":3,"c":"c","x":-25.6,"y":12.2},{"p":3,"c":"c","x":-21.7,"y":12.1},{"p":3,"c":"c","x":-21.5,"y":10.2},{"p":3,"c":"c","x":-23.4,"y":9.8},{"p":3,"c":"c","x":-24.5,"y":9.8},{"p":3,"c":"c","x":-23.4,"y":7.2},{"p":3,"c":"c","x":-25.6,"y":7.9},{"p":3,"c":"c","x":-27.9,"y":14.7},{"p":3,"c":"c","x":-45,"y":7},{"p":3,"c":"c","x":-43.5,"y":7.5},{"p":3,"c":"c","x":-42,"y":8},{"p":3,"c":"c","x":-45,"y":10.5},{"p":3,"c":"c","x":-44,"y":12},{"p":3,"c":"c","x":-42,"y":14.5},{"p":3,"c":"c","x":-30,"y":11},{"p":3,"c":"c","x":-28,"y":9},{"p":3,"c":"c","x":-27,"y":7.5},{"p":3,"c":"c","x":-26,"y":10.5},{"p":3,"c":"c","x":-29,"y":13},{"p":3,"c":"c","x":-31,"y":15},{"p":3,"c":"c","x":-36,"y":14},{"p":3,"c":"c","x":-40,"y":13.5},
      {"p":3,"c":"y","x":-49.9,"y":10.85},{"p":3,"c":"y","x":-49.2,"y":8.3},{"p":3,"c":"y","x":-47,"y":10.3},{"p":3,"c":"y","x":-46.9,"y":4.2},{"p":3,"c":"y","x":-43.2,"y":2.1},{"p":3,"c":"y","x":-46.6,"y":7.6},{"p":3,"c":"y","x":-46.6,"y":6.1},{"p":3,"c":"y","x":-41.4,"y":12},{"p":3,"c":"y","x":-39.1,"y":11.7},{"p":3,"c":"y","x":-42.1,"y":13.7},{"p":3,"c":"y","x":-44,"y":8.9},{"p":3,"c":"y","x":-42.9,"y":9.4},{"p":3,"c":"y","x":-44.7,"y":7.6},{"p":3,"c":"y","x":-45.5,"y":6.1},{"p":3,"c":"y","x":-44,"y":6.4},{"p":3,"c":"y","x":-41.4,"y":9.8},{"p":3,"c":"y","x":-40.3,"y":10.6},{"p":3,"c":"y","x":-41.4,"y":8.3},{"p":3,"c":"y","x":-39.9,"y":8},{"p":3,"c":"y","x":-38.4,"y":9.1},{"p":3,"c":"y","x":-35,"y":10.85},{"p":3,"c":"y","x":-36.3,"y":9.05},{"p":3,"c":"y","x":-33.9,"y":8.3},{"p":3,"c":"y","x":-32.4,"y":7.7},{"p":3,"c":"y","x":-31,"y":6},{"p":3,"c":"y","x":-29,"y":5.9},{"p":3,"c":"y","x":-27.9,"y":6.1},{"p":3,"c":"y","x":-24.8,"y":6.4},{"p":3,"c":"y","x":-25.9,"y":9.8},{"p":3,"c":"y","x":-25.9,"y":8.5},{"p":3,"c":"y","x":-23.6,"y":12.1},{"p":3,"c":"y","x":-24.8,"y":14.9},{"p":3,"c":"y","x":-37.3,"y":6.4},{"p":3,"c":"y","x":-39.1,"y":6.8},{"p":3,"c":"y","x":-35.4,"y":7.5},{"p":3,"c":"y","x":-37.5,"y":8},{"p":3,"c":"y","x":-40.5,"y":6.5},{"p":3,"c":"y","x":-43,"y":11},{"p":3,"c":"y","x":-33,"y":9},{"p":3,"c":"y","x":-31,"y":8.5},{"p":3,"c":"y","x":-42,"y":7},{"p":3,"c":"y","x":-45,"y":8.5},{"p":3,"c":"y","x":-44,"y":5},{"p":3,"c":"y","x":-41,"y":5.5},
      {"p":3,"c":"b","x":-45.9,"y":9.7},{"p":3,"c":"b","x":-45.7,"y":4},{"p":3,"c":"b","x":-44.7,"y":4.75},{"p":3,"c":"b","x":-40.2,"y":0.06},{"p":3,"c":"b","x":-38.8,"y":0.4},{"p":3,"c":"b","x":-33.6,"y":-0.7},{"p":3,"c":"b","x":-31.3,"y":-1.06},{"p":3,"c":"b","x":-21,"y":6.6},{"p":3,"c":"b","x":-24.4,"y":5.1},{"p":3,"c":"b","x":-25.9,"y":5.9},{"p":3,"c":"b","x":-24,"y":3.8},{"p":3,"c":"b","x":-23.1,"y":3.6},{"p":3,"c":"b","x":-23.5,"y":1.55},{"p":3,"c":"b","x":-22.7,"y":1.9},{"p":3,"c":"b","x":-24.6,"y":0.36},{"p":3,"c":"b","x":-21.6,"y":1.2},{"p":3,"c":"b","x":-21.2,"y":-0.1},{"p":3,"c":"b","x":-20.3,"y":0.07},{"p":3,"c":"b","x":-27.6,"y":-0.3},{"p":3,"c":"b","x":-29,"y":-0.3},{"p":3,"c":"b","x":-35.4,"y":-0.3},{"p":3,"c":"b","x":-36.9,"y":0.4},{"p":3,"c":"b","x":-38,"y":0.8},{"p":3,"c":"b","x":-42.9,"y":7},{"p":3,"c":"b","x":-45.1,"y":7.9},{"p":3,"c":"b","x":-43.6,"y":10},{"p":3,"c":"b","x":-42.3,"y":5.7},{"p":3,"c":"b","x":-41,"y":4.9},{"p":3,"c":"b","x":-41.7,"y":3.8},{"p":3,"c":"b","x":-40.4,"y":3},{"p":3,"c":"b","x":-39,"y":3},{"p":3,"c":"b","x":-38,"y":2},{"p":3,"c":"b","x":-37,"y":1.5},{"p":3,"c":"b","x":-35,"y":1},{"p":3,"c":"b","x":-33,"y":2},{"p":3,"c":"b","x":-31,"y":1},{"p":3,"c":"b","x":-29,"y":2},{"p":3,"c":"b","x":-28,"y":3},{"p":3,"c":"b","x":-27,"y":2},{"p":3,"c":"b","x":-26,"y":1},{"p":3,"c":"b","x":-26,"y":3.5},{"p":3,"c":"b","x":-27.5,"y":4.5},{"p":3,"c":"b","x":-29,"y":5},{"p":3,"c":"b","x":-30.5,"y":4.5},{"p":3,"c":"b","x":-26.5,"y":5},{"p":3,"c":"b","x":-40,"y":2},{"p":3,"c":"b","x":-42.5,"y":3.5},{"p":3,"c":"b","x":-43,"y":4.5},{"p":3,"c":"b","x":-36,"y":0.5},{"p":3,"c":"b","x":-30,"y":0},{"p":3,"c":"b","x":-39,"y":1},
      {"p":3,"c":"y","x":-39.1,"y":3.8},{"p":3,"c":"y","x":-39.1,"y":2.7},{"p":3,"c":"y","x":-30.5,"y":2.5},{"p":3,"c":"y","x":-33.5,"y":3},{"p":3,"c":"y","x":-36.1,"y":3},{"p":3,"c":"y","x":-25.9,"y":4.2},{"p":3,"c":"y","x":-23.6,"y":2.7},{"p":3,"c":"y","x":-38,"y":4.5},{"p":3,"c":"y","x":-35,"y":3.7},{"p":3,"c":"c","x":-28.9,"y":3.4},
      {"p":3,"c":"v","x":-8.7,"y":7.4},{"p":3,"c":"v","x":-4,"y":4.8},{"p":3,"c":"v","x":-2.9,"y":4.1},{"p":3,"c":"v","x":-0.8,"y":3.2},{"p":3,"c":"v","x":-3.1,"y":0.7},{"p":3,"c":"v","x":-5.5,"y":2.7},{"p":3,"c":"v","x":-6.6,"y":5.5},{"p":3,"c":"v","x":-5.5,"y":4.7},{"p":3,"c":"v","x":-8.3,"y":1.9},{"p":3,"c":"v","x":-8.1,"y":3.4},{"p":3,"c":"v","x":-12.9,"y":1.2},{"p":3,"c":"v","x":-10.9,"y":6.6},{"p":3,"c":"v","x":-14.1,"y":7.4},{"p":3,"c":"v","x":-16.5,"y":7.4},{"p":3,"c":"v","x":-22.1,"y":5.9},{"p":3,"c":"v","x":-20.8,"y":5.3},{"p":3,"c":"v","x":-18.7,"y":0.8},{"p":3,"c":"v","x":-10,"y":2.3},{"p":3,"c":"v","x":-9,"y":4},{"p":3,"c":"v","x":-7.5,"y":4.5},{"p":3,"c":"v","x":-12,"y":6},{"p":3,"c":"v","x":-18,"y":6},{"p":3,"c":"v","x":-11,"y":2.7},
      {"p":3,"c":"m","x":17.8,"y":-1.4},{"p":3,"c":"m","x":14.3,"y":-1.6},{"p":3,"c":"m","x":14,"y":-0.2},{"p":3,"c":"m","x":18.3,"y":2},{"p":3,"c":"m","x":17.3,"y":2.1},{"p":3,"c":"m","x":16.6,"y":3.2},{"p":3,"c":"m","x":15.3,"y":2.2},{"p":3,"c":"m","x":14.3,"y":2.4},{"p":3,"c":"m","x":13,"y":3.3},{"p":3,"c":"m","x":13.7,"y":3.2},{"p":3,"c":"m","x":12.9,"y":0.8},{"p":3,"c":"m","x":11.5,"y":2.7},{"p":3,"c":"m","x":11.3,"y":0.8},{"p":3,"c":"m","x":7.7,"y":-1.1},{"p":3,"c":"m","x":4.5,"y":-1.6},{"p":3,"c":"m","x":0.75,"y":-1.9},{"p":3,"c":"m","x":0.9,"y":2.8},{"p":3,"c":"m","x":1.8,"y":1.6},{"p":3,"c":"m","x":9.4,"y":0.8},{"p":3,"c":"m","x":10.2,"y":1.9},{"p":3,"c":"m","x":8,"y":1.9},{"p":3,"c":"m","x":6.8,"y":0.4},{"p":3,"c":"m","x":5,"y":-0.3},{"p":3,"c":"m","x":2,"y":-1},{"p":3,"c":"m","x":0,"y":-0.1},{"p":3,"c":"m","x":4.6,"y":1.7},{"p":3,"c":"m","x":2.7,"y":1.7}
    ],
    "rings": [
      {"p":1,"id":"c","x":-45.2,"y":17.1},{"p":1,"id":"c","x":-47.22,"y":19.42},{"p":1,"id":"c","x":-52.1,"y":20.18},{"p":1,"id":"c","x":-56.98,"y":18.93},{"p":1,"id":"c","x":-59,"y":16.4},{"p":1,"id":"c","x":-56.98,"y":14.08},{"p":1,"id":"c","x":-52.1,"y":13.32},{"p":1,"id":"c","x":-47.22,"y":14.57},
      {"p":1,"id":"y","x":-51.65,"y":11.9},{"p":1,"id":"y","x":-53.54,"y":13.77},{"p":1,"id":"y","x":-58.1,"y":14.81},{"p":1,"id":"y","x":-62.66,"y":14.41},{"p":1,"id":"y","x":-64.55,"y":12.8},{"p":1,"id":"y","x":-62.66,"y":10.93},{"p":1,"id":"y","x":-58.1,"y":9.89},{"p":1,"id":"y","x":-53.54,"y":10.29},
      {"p":1,"id":"b","x":-49,"y":7.7},{"p":1,"id":"b","x":-50.88,"y":10.37},{"p":1,"id":"b","x":-55.4,"y":12.15},{"p":1,"id":"b","x":-59.92,"y":12},{"p":1,"id":"b","x":-61.8,"y":10},{"p":1,"id":"b","x":-59.92,"y":7.33},{"p":1,"id":"b","x":-55.4,"y":5.55},{"p":1,"id":"b","x":-50.88,"y":5.7},
      {"p":1,"id":"v","x":-20.45,"y":5.27},{"p":1,"id":"v","x":-21.67,"y":6.18},{"p":1,"id":"v","x":-24.6,"y":5.97},{"p":1,"id":"v","x":-27.53,"y":4.77},{"p":1,"id":"v","x":-28.75,"y":3.27},{"p":1,"id":"v","x":-27.53,"y":2.36},{"p":1,"id":"v","x":-24.6,"y":2.57},{"p":1,"id":"v","x":-21.67,"y":3.77},
      {"p":1,"id":"m","x":5.55,"y":1.25},{"p":1,"id":"m","x":4.76,"y":1.18},{"p":1,"id":"m","x":2.85,"y":0.8},{"p":1,"id":"m","x":0.94,"y":0.33},{"p":1,"id":"m","x":0.15,"y":0.05},{"p":1,"id":"m","x":0.94,"y":0.12},{"p":1,"id":"m","x":2.85,"y":0.5},{"p":1,"id":"m","x":4.76,"y":0.97},
      {"p":2,"id":"c","x":-38.58,"y":15.02},{"p":2,"id":"c","x":-40.13,"y":17.53},{"p":2,"id":"c","x":-43.86,"y":18.31},{"p":2,"id":"c","x":-47.59,"y":16.9},{"p":2,"id":"c","x":-49.14,"y":14.12},{"p":2,"id":"c","x":-47.59,"y":11.61},{"p":2,"id":"c","x":-43.86,"y":10.83},{"p":2,"id":"c","x":-40.13,"y":12.24},
      {"p":2,"id":"y","x":-44.55,"y":8.1},{"p":2,"id":"y","x":-45.68,"y":10.98},{"p":2,"id":"y","x":-48.4,"y":13.17},{"p":2,"id":"y","x":-51.12,"y":13.38},{"p":2,"id":"y","x":-52.25,"y":11.5},{"p":2,"id":"y","x":-51.12,"y":8.62},{"p":2,"id":"y","x":-48.4,"y":6.43},{"p":2,"id":"y","x":-45.68,"y":6.22},
      {"p":2,"id":"b","x":-40.8,"y":2.86},{"p":2,"id":"b","x":-42.09,"y":5.84},{"p":2,"id":"b","x":-45.2,"y":8.8},{"p":2,"id":"b","x":-48.31,"y":10},{"p":2,"id":"b","x":-49.6,"y":8.74},{"p":2,"id":"b","x":-48.31,"y":5.76},{"p":2,"id":"b","x":-45.2,"y":2.8},{"p":2,"id":"b","x":-42.09,"y":1.6},
      {"p":2,"id":"s","x":-44.26,"y":7.94},{"p":2,"id":"s","x":-45.04,"y":9.61},{"p":2,"id":"s","x":-46.93,"y":10.52},{"p":2,"id":"s","x":-48.82,"y":10.12},{"p":2,"id":"s","x":-49.6,"y":8.66},{"p":2,"id":"s","x":-48.82,"y":6.99},{"p":2,"id":"s","x":-46.93,"y":6.08},{"p":2,"id":"s","x":-45.04,"y":6.48},
      {"p":2,"id":"v","x":-18.11,"y":5.96},{"p":2,"id":"v","x":-18.89,"y":6.7},{"p":2,"id":"v","x":-20.78,"y":5.99},{"p":2,"id":"v","x":-22.67,"y":4.22},{"p":2,"id":"v","x":-23.45,"y":2.48},{"p":2,"id":"v","x":-22.67,"y":1.74},{"p":2,"id":"v","x":-20.78,"y":2.45},{"p":2,"id":"v","x":-18.89,"y":4.22},
      {"p":2,"id":"m","x":4.8,"y":0.8},{"p":2,"id":"m","x":4.13,"y":0.73},{"p":2,"id":"m","x":2.5,"y":0.45},{"p":2,"id":"m","x":0.87,"y":0.05},{"p":2,"id":"m","x":0.2,"y":-0.1},{"p":2,"id":"m","x":0.87,"y":-0.03},{"p":2,"id":"m","x":2.5,"y":0.25},{"p":2,"id":"m","x":4.13,"y":0.65},
      {"p":3,"id":"c","x":-28.33,"y":9.7},{"p":3,"id":"c","x":-29.86,"y":11.75},{"p":3,"id":"c","x":-33.55,"y":12.6},{"p":3,"id":"c","x":-37.24,"y":11.62},{"p":3,"id":"c","x":-38.77,"y":9.5},{"p":3,"id":"c","x":-37.24,"y":7.45},{"p":3,"id":"c","x":-33.55,"y":6.6},{"p":3,"id":"c","x":-29.86,"y":7.48},
      {"p":3,"id":"y","x":-32.23,"y":5.29},{"p":3,"id":"y","x":-33.57,"y":6.56},{"p":3,"id":"y","x":-36.8,"y":7.64},{"p":3,"id":"y","x":-40.03,"y":7.9},{"p":3,"id":"y","x":-41.37,"y":7.19},{"p":3,"id":"y","x":-40.03,"y":5.92},{"p":3,"id":"y","x":-36.8,"y":4.84},{"p":3,"id":"y","x":-33.57,"y":4.58},
      {"p":3,"id":"b","x":-28.9,"y":1.85},{"p":3,"id":"b","x":-30.29,"y":3.44},{"p":3,"id":"b","x":-33.65,"y":4.72},{"p":3,"id":"b","x":-37.01,"y":4.93},{"p":3,"id":"b","x":-38.4,"y":3.95},{"p":3,"id":"b","x":-37.01,"y":2.36},{"p":3,"id":"b","x":-33.65,"y":1.08},{"p":3,"id":"b","x":-30.29,"y":0.87},
      {"p":3,"id":"v","x":-12.6,"y":4.36},{"p":3,"id":"v","x":-13.44,"y":5.12},{"p":3,"id":"v","x":-15.45,"y":4.97},{"p":3,"id":"v","x":-17.46,"y":4},{"p":3,"id":"v","x":-18.3,"y":2.76},{"p":3,"id":"v","x":-17.46,"y":2},{"p":3,"id":"v","x":-15.45,"y":2.15},{"p":3,"id":"v","x":-13.44,"y":3.12},
      {"p":3,"id":"m","x":5.8,"y":0.9},{"p":3,"id":"m","x":5,"y":0.85},{"p":3,"id":"m","x":3,"y":0.55},{"p":3,"id":"m","x":1,"y":0.03},{"p":3,"id":"m","x":0.2,"y":-0.2},{"p":3,"id":"m","x":1,"y":-0.12},{"p":3,"id":"m","x":3,"y":0.15},{"p":3,"id":"m","x":5,"y":0.62}
    ],
    "origin": [{"x":0,"y":0}]
  },
  "vconcat": [
    {
      "width": 893, "height": 267,
      "resolve": {"axis": {"x": "independent", "y": "independent"}},
      "encoding": {
        "x": {"field": "x", "type": "quantitative", "scale": {"domain": [-75, 25], "nice": false}, "axis": null},
        "y": {"field": "y", "type": "quantitative", "scale": {"domain": [-5, 25], "nice": false}, "axis": null}
      },
      "layer": [
        {
          "data": {"name": "traces"},
          "transform": [{"filter": "datum.p == 1"}],
          "mark": {"type": "line", "color": "#b0b0b0", "strokeWidth": 3.6, "strokeCap": "round", "strokeDash": [0.1, 6], "interpolate": "cardinal"},
          "encoding": {
            "x": {"field": "x", "type": "quantitative", "scale": {"domain": [-75, 25], "nice": false}, "axis": {"orient": "bottom", "values": [-70,-60,-50,-40,-30,-20,-10,0,10,20], "tickSize": -9, "labelPadding": 18, "labelExpr": "'' + datum.value", "title": null}},
            "y": {"field": "y", "type": "quantitative", "scale": {"domain": [-5, 25], "nice": false}, "axis": {"orient": "left", "values": [-5,0,5,10,15,20,25], "tickSize": -9, "labelPadding": 16, "labelExpr": "'' + datum.value", "title": "Vertical Displacement [cm]", "titlePadding": 6}},
            "detail": {"field": "id"},
            "order": {"value": null}
          }
        },
        {
          "data": {"name": "clouds"},
          "transform": [{"filter": "datum.p == 1"}],
          "mark": {"type": "area", "opacity": 1},
          "encoding": {
            "y2": {"field": "y2"},
            "color": {"field": "c", "type": "nominal", "legend": null, "scale": {"domain": ["g","c","y","b","v","m"], "range": ["#b0b0b0","#00ffff","#ffff00","#0808f0","#00ff00","#ff00ff"]}}
          }
        },
        {
          "data": {"name": "clouds"},
          "transform": [{"filter": "datum.p == 1 && datum.c != 'g'"}],
          "mark": {"type": "point", "shape": "M-1,0L1,0M0,-1L0,1M-.7,-.7L.7,.7M-.7,.7L.7,-.7", "size": 324, "filled": false, "strokeWidth": 2, "opacity": 1},
          "encoding": {
            "color": {"field": "c", "type": "nominal", "legend": null, "scale": {"domain": ["g","c","y","b","v","m"], "range": ["#b0b0b0","#00ffff","#ffff00","#0808f0","#00ff00","#ff00ff"]}}
          }
        },
        {
          "data": {"name": "clouds"},
          "transform": [{"filter": "datum.p == 1 && datum.c != 'g'"}],
          "mark": {"type": "point", "shape": "M-1,0L1,0M0,-1L0,1M-.7,-.7L.7,.7M-.7,.7L.7,-.7", "size": 324, "filled": false, "strokeWidth": 2, "opacity": 1},
          "encoding": {
            "y": {"field": "y2", "type": "quantitative", "scale": {"domain": [-5, 25], "nice": false}, "axis": null},
            "color": {"field": "c", "type": "nominal", "legend": null, "scale": {"domain": ["g","c","y","b","v","m"], "range": ["#b0b0b0","#00ffff","#ffff00","#0808f0","#00ff00","#ff00ff"]}}
          }
        },
        {
          "data": {"name": "stars"},
          "transform": [{"filter": "datum.p == 1"}],
          "mark": {"type": "point", "shape": "M-1,0L1,0M0,-1L0,1M-.7,-.7L.7,.7M-.7,.7L.7,-.7", "size": 196, "filled": false, "strokeWidth": 1.2, "opacity": 1},
          "encoding": {
            "color": {"field": "c", "type": "nominal", "legend": null, "scale": {"domain": ["g","c","y","b","v","m"], "range": ["#b0b0b0","#00ffff","#ffff00","#0808f0","#00ff00","#ff00ff"]}}
          }
        },
        {
          "data": {"name": "origin"},
          "mark": {"type": "point", "shape": "circle", "size": 110, "filled": false, "strokeWidth": 1.2, "color": "#ffffff", "opacity": 1},
          "encoding": {
            "x": {"field": "x", "type": "quantitative", "scale": {"domain": [-75, 25], "nice": false}, "axis": {"orient": "top", "values": [-70,-60,-50,-40,-30,-20,-10,0,10,20], "tickSize": -9, "labels": false, "title": null}},
            "y": {"field": "y", "type": "quantitative", "scale": {"domain": [-5, 25], "nice": false}, "axis": {"orient": "right", "values": [-5,0,5,10,15,20,25], "tickSize": -9, "labels": false, "title": null}}
          }
        },
        {
          "data": {"name": "rings"},
          "transform": [{"filter": "datum.p == 1"}],
          "mark": {"type": "line", "color": "#4d4d4d", "strokeWidth": 4, "interpolate": "cardinal-closed"},
          "encoding": {"detail": {"field": "id"}, "order": {"value": null}}
        }
      ]
    },
    {
      "width": 893, "height": 267,
      "resolve": {"axis": {"x": "independent", "y": "independent"}},
      "encoding": {
        "x": {"field": "x", "type": "quantitative", "scale": {"domain": [-75, 25], "nice": false}, "axis": null},
        "y": {"field": "y", "type": "quantitative", "scale": {"domain": [-5, 25], "nice": false}, "axis": null}
      },
      "layer": [
        {
          "data": {"name": "traces"},
          "transform": [{"filter": "datum.p == 2"}],
          "mark": {"type": "line", "color": "#b0b0b0", "strokeWidth": 3.6, "strokeCap": "round", "strokeDash": [0.1, 6], "interpolate": "cardinal"},
          "encoding": {
            "x": {"field": "x", "type": "quantitative", "scale": {"domain": [-75, 25], "nice": false}, "axis": {"orient": "bottom", "values": [-70,-60,-50,-40,-30,-20,-10,0,10,20], "tickSize": -9, "labelPadding": 18, "labelExpr": "'' + datum.value", "title": null}},
            "y": {"field": "y", "type": "quantitative", "scale": {"domain": [-5, 25], "nice": false}, "axis": {"orient": "left", "values": [-5,0,5,10,15,20,25], "tickSize": -9, "labelPadding": 16, "labelExpr": "'' + datum.value", "title": "Vertical Displacement [cm]", "titlePadding": 6}},
            "detail": {"field": "id"},
            "order": {"value": null}
          }
        },
        {
          "data": {"name": "clouds"},
          "transform": [{"filter": "datum.p == 2"}],
          "mark": {"type": "area", "opacity": 1},
          "encoding": {
            "y2": {"field": "y2"},
            "color": {"field": "c", "type": "nominal", "legend": null, "scale": {"domain": ["g","c","y","b","v","m"], "range": ["#b0b0b0","#00ffff","#ffff00","#0808f0","#00ff00","#ff00ff"]}}
          }
        },
        {
          "data": {"name": "clouds"},
          "transform": [{"filter": "datum.p == 2 && datum.c != 'g'"}],
          "mark": {"type": "point", "shape": "M-1,0L1,0M0,-1L0,1M-.7,-.7L.7,.7M-.7,.7L.7,-.7", "size": 324, "filled": false, "strokeWidth": 2, "opacity": 1},
          "encoding": {
            "color": {"field": "c", "type": "nominal", "legend": null, "scale": {"domain": ["g","c","y","b","v","m"], "range": ["#b0b0b0","#00ffff","#ffff00","#0808f0","#00ff00","#ff00ff"]}}
          }
        },
        {
          "data": {"name": "clouds"},
          "transform": [{"filter": "datum.p == 2 && datum.c != 'g'"}],
          "mark": {"type": "point", "shape": "M-1,0L1,0M0,-1L0,1M-.7,-.7L.7,.7M-.7,.7L.7,-.7", "size": 324, "filled": false, "strokeWidth": 2, "opacity": 1},
          "encoding": {
            "y": {"field": "y2", "type": "quantitative", "scale": {"domain": [-5, 25], "nice": false}, "axis": null},
            "color": {"field": "c", "type": "nominal", "legend": null, "scale": {"domain": ["g","c","y","b","v","m"], "range": ["#b0b0b0","#00ffff","#ffff00","#0808f0","#00ff00","#ff00ff"]}}
          }
        },
        {
          "data": {"name": "stars"},
          "transform": [{"filter": "datum.p == 2"}],
          "mark": {"type": "point", "shape": "M-1,0L1,0M0,-1L0,1M-.7,-.7L.7,.7M-.7,.7L.7,-.7", "size": 196, "filled": false, "strokeWidth": 1.2, "opacity": 1},
          "encoding": {
            "color": {"field": "c", "type": "nominal", "legend": null, "scale": {"domain": ["g","c","y","b","v","m"], "range": ["#b0b0b0","#00ffff","#ffff00","#0808f0","#00ff00","#ff00ff"]}}
          }
        },
        {
          "data": {"name": "origin"},
          "mark": {"type": "point", "shape": "circle", "size": 110, "filled": false, "strokeWidth": 1.2, "color": "#ffffff", "opacity": 1},
          "encoding": {
            "x": {"field": "x", "type": "quantitative", "scale": {"domain": [-75, 25], "nice": false}, "axis": {"orient": "top", "values": [-70,-60,-50,-40,-30,-20,-10,0,10,20], "tickSize": -9, "labels": false, "title": null}},
            "y": {"field": "y", "type": "quantitative", "scale": {"domain": [-5, 25], "nice": false}, "axis": {"orient": "right", "values": [-5,0,5,10,15,20,25], "tickSize": -9, "labels": false, "title": null}}
          }
        },
        {
          "data": {"name": "rings"},
          "transform": [{"filter": "datum.p == 2"}],
          "mark": {"type": "line", "color": "#4d4d4d", "strokeWidth": 4, "interpolate": "cardinal-closed"},
          "encoding": {"detail": {"field": "id"}, "order": {"value": null}}
        }
      ]
    },
    {
      "width": 893, "height": 267,
      "resolve": {"axis": {"x": "independent", "y": "independent"}},
      "encoding": {
        "x": {"field": "x", "type": "quantitative", "scale": {"domain": [-75, 25], "nice": false}, "axis": null},
        "y": {"field": "y", "type": "quantitative", "scale": {"domain": [-5, 25], "nice": false}, "axis": null}
      },
      "layer": [
        {
          "data": {"name": "traces"},
          "transform": [{"filter": "datum.p == 3"}],
          "mark": {"type": "line", "color": "#b0b0b0", "strokeWidth": 3.6, "strokeCap": "round", "strokeDash": [0.1, 6], "interpolate": "cardinal"},
          "encoding": {
            "x": {"field": "x", "type": "quantitative", "scale": {"domain": [-75, 25], "nice": false}, "axis": {"orient": "bottom", "values": [-70,-60,-50,-40,-30,-20,-10,0,10,20], "tickSize": -9, "labelPadding": 18, "labelExpr": "'' + datum.value", "title": "Horizontal Displacement [cm]", "titlePadding": 8}},
            "y": {"field": "y", "type": "quantitative", "scale": {"domain": [-5, 25], "nice": false}, "axis": {"orient": "left", "values": [-5,0,5,10,15,20,25], "tickSize": -9, "labelPadding": 16, "labelExpr": "'' + datum.value", "title": "Vertical Displacement [cm]", "titlePadding": 6}},
            "detail": {"field": "id"},
            "order": {"value": null}
          }
        },
        {
          "data": {"name": "clouds"},
          "transform": [{"filter": "datum.p == 3"}],
          "mark": {"type": "area", "opacity": 1},
          "encoding": {
            "y2": {"field": "y2"},
            "color": {"field": "c", "type": "nominal", "legend": null, "scale": {"domain": ["g","c","y","b","v","m"], "range": ["#b0b0b0","#00ffff","#ffff00","#0808f0","#00ff00","#ff00ff"]}}
          }
        },
        {
          "data": {"name": "clouds"},
          "transform": [{"filter": "datum.p == 3 && datum.c != 'g'"}],
          "mark": {"type": "point", "shape": "M-1,0L1,0M0,-1L0,1M-.7,-.7L.7,.7M-.7,.7L.7,-.7", "size": 324, "filled": false, "strokeWidth": 2, "opacity": 1},
          "encoding": {
            "color": {"field": "c", "type": "nominal", "legend": null, "scale": {"domain": ["g","c","y","b","v","m"], "range": ["#b0b0b0","#00ffff","#ffff00","#0808f0","#00ff00","#ff00ff"]}}
          }
        },
        {
          "data": {"name": "clouds"},
          "transform": [{"filter": "datum.p == 3 && datum.c != 'g'"}],
          "mark": {"type": "point", "shape": "M-1,0L1,0M0,-1L0,1M-.7,-.7L.7,.7M-.7,.7L.7,-.7", "size": 324, "filled": false, "strokeWidth": 2, "opacity": 1},
          "encoding": {
            "y": {"field": "y2", "type": "quantitative", "scale": {"domain": [-5, 25], "nice": false}, "axis": null},
            "color": {"field": "c", "type": "nominal", "legend": null, "scale": {"domain": ["g","c","y","b","v","m"], "range": ["#b0b0b0","#00ffff","#ffff00","#0808f0","#00ff00","#ff00ff"]}}
          }
        },
        {
          "data": {"name": "stars"},
          "transform": [{"filter": "datum.p == 3"}],
          "mark": {"type": "point", "shape": "M-1,0L1,0M0,-1L0,1M-.7,-.7L.7,.7M-.7,.7L.7,-.7", "size": 196, "filled": false, "strokeWidth": 1.2, "opacity": 1},
          "encoding": {
            "color": {"field": "c", "type": "nominal", "legend": null, "scale": {"domain": ["g","c","y","b","v","m"], "range": ["#b0b0b0","#00ffff","#ffff00","#0808f0","#00ff00","#ff00ff"]}}
          }
        },
        {
          "data": {"name": "origin"},
          "mark": {"type": "point", "shape": "circle", "size": 110, "filled": false, "strokeWidth": 1.2, "color": "#ffffff", "opacity": 1},
          "encoding": {
            "x": {"field": "x", "type": "quantitative", "scale": {"domain": [-75, 25], "nice": false}, "axis": {"orient": "top", "values": [-70,-60,-50,-40,-30,-20,-10,0,10,20], "tickSize": -9, "labels": false, "title": null}},
            "y": {"field": "y", "type": "quantitative", "scale": {"domain": [-5, 25], "nice": false}, "axis": {"orient": "right", "values": [-5,0,5,10,15,20,25], "tickSize": -9, "labels": false, "title": null}}
          }
        },
        {
          "data": {"name": "rings"},
          "transform": [{"filter": "datum.p == 3"}],
          "mark": {"type": "line", "color": "#4d4d4d", "strokeWidth": 4, "interpolate": "cardinal-closed"},
          "encoding": {"detail": {"field": "id"}, "order": {"value": null}}
        }
      ]
    }
  ]
}
